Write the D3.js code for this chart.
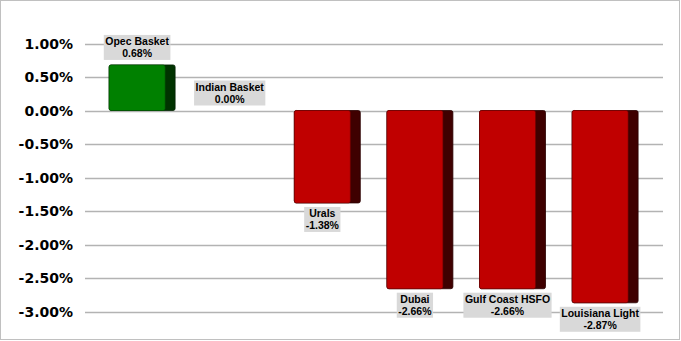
<!DOCTYPE html>
<html>
<head>
<meta charset="utf-8">
<script src="https://cdnjs.cloudflare.com/ajax/libs/d3/7.8.5/d3.min.js"></script>
<style>
  body { margin: 0; background: #fff; }
  .lbl { font-family: "Liberation Sans", Arial, sans-serif; }
  .ytick text { font-family: "DejaVu Sans", Verdana, sans-serif; }
</style>
</head>
<body>
<div class="chart"></div>
<script>
// data
var categories = ["Opec Basket", "Indian Basket", "Urals", "Dubai", "Gulf Coast HSFO", "Louisiana Light"];
var values = [0.68, 0.00, -1.38, -2.66, -2.66, -2.87];
var tickValues = [1, 0.5, 0, -0.5, -1, -1.5, -2, -2.5, -3];

var svgWidth = 681;
var svgHeight = 341;

var svg = d3.select(".chart")
  .append("svg")
  .attr("width", svgWidth)
  .attr("height", svgHeight);

// outer border
svg.append("rect")
  .attr("x", 0.5).attr("y", 0.5)
  .attr("width", svgWidth - 2).attr("height", svgHeight - 2)
  .attr("fill", "#fff")
  .attr("stroke", "#c0c0c0");

var yScale = d3.scaleLinear()
  .domain([1, -3])
  .range([43.5, 311.5]);

var xScale = d3.scaleBand()
  .domain(categories)
  .range([95.8, 651.4]);

var barW = 66, sideW = 10;
var barOff = (xScale.bandwidth() - barW) / 2;

// gridlines
svg.append("g").selectAll("line")
  .data(tickValues)
  .enter()
  .append("line")
  .attr("x1", 85).attr("x2", 663)
  .attr("y1", d => Math.round(yScale(d)) + 0.5)
  .attr("y2", d => Math.round(yScale(d)) + 0.5)
  .attr("stroke", "#b3b3b3")
  .attr("stroke-width", 1.3);

// y axis labels
var leftAxis = d3.axisLeft(yScale)
  .tickValues(tickValues)
  .tickSize(0)
  .tickPadding(0)
  .tickFormat(d => d.toFixed(2) + "%");

var axisG = svg.append("g")
  .attr("class", "ytick")
  .attr("transform", "translate(73, 0.5)")
  .call(leftAxis);
axisG.select(".domain").remove();
axisG.selectAll("text")
  .style("font-size", "14px")
  .style("font-weight", "bold")
  .attr("fill", "#000");

// bars
var bars = svg.append("g").selectAll("g")
  .data(categories)
  .enter()
  .append("g");

function barTop(i) { return yScale(Math.max(0, values[i])); }
function barH(i) { return Math.abs(yScale(values[i]) - yScale(0)); }

bars.append("rect")
  .attr("x", d => xScale(d) + barOff)
  .attr("y", (d, i) => barTop(i))
  .attr("width", barW)
  .attr("height", (d, i) => barH(i))
  .attr("rx", 2)
  .attr("fill", (d, i) => values[i] >= 0 ? "#003300" : "#3f0000")
  .attr("stroke", (d, i) => values[i] >= 0 ? "#002200" : "#2a0000")
  .attr("stroke-width", 0.8);

bars.append("rect")
  .attr("x", d => xScale(d) + barOff)
  .attr("y", (d, i) => barTop(i))
  .attr("width", barW - sideW)
  .attr("height", (d, i) => barH(i))
  .attr("rx", 2)
  .attr("fill", (d, i) => values[i] >= 0 ? "#008000" : "#c00000")
  .attr("stroke", (d, i) => values[i] >= 0 ? "#005000" : "#700000")
  .attr("stroke-width", 0.6);

// data labels
var labelH = 25;
categories.forEach(function (c, i) {
  var v = values[i];
  var cx = xScale(c) + barOff + (barW - sideW) / 2;
  var top = v >= 0 ? yScale(v) - 5 - labelH : yScale(v) + 4;
  var g = svg.append("g").attr("class", "lbl");
  var box = g.append("rect").attr("fill", "#d9d9d9");
  var t1 = g.append("text")
    .attr("x", cx).attr("y", top + 10.5)
    .attr("text-anchor", "middle")
    .attr("font-size", 10.5).attr("font-weight", "bold")
    .text(c);
  var t2 = g.append("text")
    .attr("x", cx).attr("y", top + 22)
    .attr("text-anchor", "middle")
    .attr("font-size", 10.5).attr("font-weight", "bold")
    .text(v.toFixed(2) + "%");
  var w = Math.max(t1.node().getComputedTextLength(), t2.node().getComputedTextLength()) + 3;
  box.attr("x", cx - w / 2).attr("y", top)
    .attr("width", w).attr("height", labelH);
});
</script>
</body>
</html>
